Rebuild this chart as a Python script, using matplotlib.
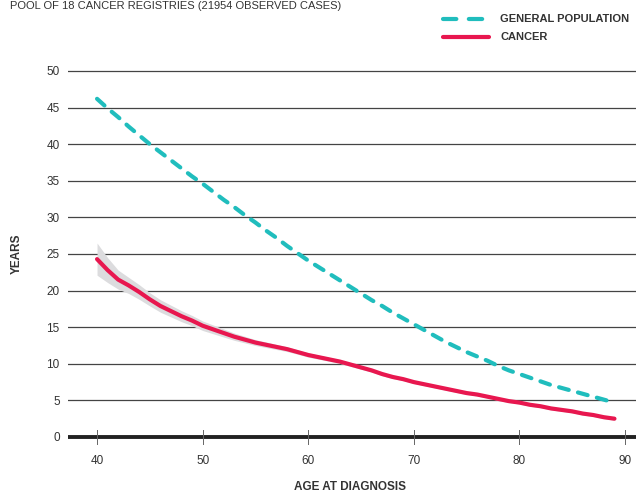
import matplotlib
matplotlib.use("Agg")
import matplotlib.pyplot as plt
from matplotlib.lines import Line2D
import numpy as np

ages = list(range(40, 90))
general_population = [46.2, 44.9, 43.7, 42.4, 41.2, 40.0, 38.9, 37.8, 36.7, 35.6,
                      34.6, 33.5, 32.4, 31.4, 30.3, 29.3, 28.2, 27.2, 26.1, 25.1,
                      24.1, 23.2, 22.3, 21.4, 20.5, 19.6, 18.7, 17.9, 17.0, 16.2,
                      15.4, 14.6, 13.8, 13.0, 12.3, 11.6, 11.0, 10.4, 9.7, 9.1,
                      8.6, 8.1, 7.6, 7.1, 6.7, 6.3, 5.9, 5.5, 5.1, 4.7]
cancer = [24.3, 22.8, 21.5, 20.7, 19.8, 18.8, 17.9, 17.2, 16.5, 15.9,
          15.2, 14.7, 14.2, 13.7, 13.3, 12.9, 12.6, 12.3, 12.0, 11.6,
          11.2, 10.9, 10.6, 10.3, 9.9, 9.5, 9.1, 8.6, 8.2, 7.9,
          7.5, 7.2, 6.9, 6.6, 6.3, 6.0, 5.8, 5.5, 5.2, 4.9,
          4.7, 4.4, 4.2, 3.9, 3.7, 3.5, 3.2, 3.0, 2.7, 2.5]
cancer_ci_half = [2.2, 1.7, 1.3, 1.1, 1.0, 0.9, 0.85, 0.8, 0.75, 0.7,
                  0.65, 0.6, 0.55, 0.5, 0.45, 0.4, 0.38, 0.35, 0.33, 0.3,
                  0.3, 0.28, 0.27, 0.26, 0.25, 0.25, 0.24, 0.23, 0.22, 0.21,
                  0.2, 0.2, 0.2, 0.2, 0.2, 0.2, 0.2, 0.2, 0.2, 0.2,
                  0.2, 0.2, 0.2, 0.2, 0.2, 0.2, 0.2, 0.2, 0.2, 0.2]
x_ticks = [40, 50, 60, 70, 80, 90]
y_ticks = [0, 5, 10, 15, 20, 25, 30, 35, 40, 45, 50]
title = "POOL OF 18 CANCER REGISTRIES (21954 OBSERVED CASES)"
legend_labels = ["GENERAL POPULATION", "CANCER"]

TEAL = "#20BDBD"
RED = "#E8174F"
BAND = "#DCDCDE"
TXT = "#333333"

plt.rcParams['font.family'] = ['Liberation Sans Narrow', 'Liberation Sans', 'DejaVu Sans']

W, H = 636, 494
fig = plt.figure(figsize=(W / 100, H / 100), dpi=100)
ax = fig.add_axes([68 / W, 0.108, 1 - 68 / W, 0.7557])

a = np.array(ages)
c = np.array(cancer)
hw = np.array(cancer_ci_half)
ax.fill_between(a, c - hw, c + hw, color=BAND, lw=0, zorder=2)
ax.plot(a, c, color=RED, lw=3, solid_capstyle='round', solid_joinstyle='round', zorder=4)
ax.plot(a, general_population, color=TEAL, lw=3, dashes=(2.4, 2.3),
        dash_capstyle='round', zorder=4)

ax.set_xlim(37.25, 91.04)
ax.set_ylim(-0.5, 50.5)
for yv in y_ticks[1:]:
    ax.axhline(yv, color='#444444', lw=0.9, zorder=1)
ax.axhline(0, color='#222222', lw=2.8, zorder=3)
for xv in x_ticks:
    ax.plot([xv, xv], [-1.0, 1.0], color='#666666', lw=0.7, zorder=3, clip_on=False)

for s in ax.spines.values():
    s.set_visible(False)
ax.set_xticks(x_ticks)
ax.set_xticklabels([str(v) for v in x_ticks])
ax.set_yticks(y_ticks)
ax.set_yticklabels([str(v) for v in y_ticks])
ax.tick_params(axis='both', length=0, labelsize=8.5, colors=TXT)
ax.tick_params(axis='x', pad=10)
ax.tick_params(axis='y', pad=6)

fig.text(17 / W, 1 - 254 / H, "YEARS", rotation=90, ha='center', va='center',
         fontsize=8.5, fontweight='bold', color=TXT)
fig.text(350 / W, 1 - 487 / H, "AGE AT DIAGNOSIS", ha='center', va='center',
         fontsize=8.5, fontweight='bold', color=TXT)
fig.text(10 / W, 1 - 1 / H, title, ha='left', va='top', fontsize=8, color=TXT)

# legend
fig.add_artist(Line2D([443 / W, 489 / W], [1 - 19 / H, 1 - 19 / H], color=TEAL, lw=3,
                      dashes=(3.2, 3.0), dash_capstyle='round'))
fig.add_artist(Line2D([443 / W, 489 / W], [1 - 37 / H, 1 - 37 / H], color=RED, lw=3,
                      solid_capstyle='round'))
fig.text(500 / W, 1 - 19 / H, legend_labels[0], ha='left', va='center', fontsize=8,
         fontweight='bold', color=TXT)
fig.text(500 / W, 1 - 37 / H, legend_labels[1], ha='left', va='center', fontsize=8,
         fontweight='bold', color=TXT)

fig.savefig("out.png", dpi=100)
